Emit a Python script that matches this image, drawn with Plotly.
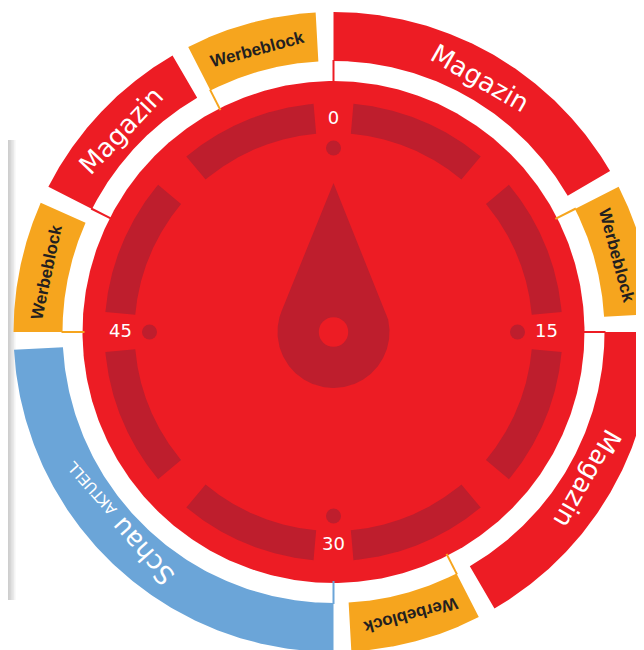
import numpy as np
import plotly.graph_objects as go

# ---------------- data ----------------
segment_labels = ["Magazin", "Werbeblock", "Magazin", "Werbeblock",
                  "Schau AKTUELL", "Werbeblock", "Magazin", "Werbeblock"]
segment_kind = ["magazin", "werbung", "magazin", "werbung",
                "schau", "werbung", "magazin", "werbung"]
segment_start_min = [0, 10.5, 15, 25.5, 30, 45, 49.5, 55.5]
hour_minutes = 60
dial_tick_minutes = [0, 15, 30, 45]
dial_tick_labels = ["0", "15", "30", "45"]
hand_minute = 0

# ---------------- style ----------------
RED = "#ED1C24"
DARK = "#BE1E2D"
ORANGE = "#F6A51E"
BLUE = "#6BA5D8"
kind_color = {"magazin": RED, "werbung": ORANGE, "schau": BLUE}

PAGE_OFFSET = 8              # default body margin of the html page
W, H = 644 - PAGE_OFFSET, 650 - PAGE_OFFSET
CX, CY = 333.5 - PAGE_OFFSET, 332 - PAGE_OFFSET   # dial centre in figure pixels
R_DISK = 251
R_RING_IN, R_RING_OUT = 271, 320
GAP_DEG = 3.2
R_ARC_IN, R_ARC_OUT = 199, 229
ARC_GAP_DEG = 5
R_DOT = 184
R_TICKLABEL = 213
R_LABEL = 293
HAND_TIP, HAND_BULB, HUB = 149, 56, 14.7

label_font = {
    "magazin": dict(family="DejaVu Sans", size=26, color="white"),
    "werbung": dict(family="Liberation Sans", size=17, color="#231F20", weight="bold"),
    "schau": dict(family="DejaVu Sans", size=26, color="white"),
}
label_nudge = {4: (5.0, -5)}   # index: (extra degrees, extra radius)


def min2deg(m):
    return np.asarray(m, dtype=float) / hour_minutes * 360.0


def polar_xy(r, deg):
    t = np.radians(deg)
    return r * np.sin(t), r * np.cos(t)


def sector(th1, th2, r1, r2, n=160):
    t = np.linspace(th1, th2, n)
    xo, yo = polar_xy(r2, t)
    xi, yi = polar_xy(r1, t[::-1])
    return (np.concatenate([xo, xi, xo[:1]]),
            np.concatenate([yo, yi, yo[:1]]))


fig = go.Figure()


def add_fill(x, y, color):
    fig.add_trace(go.Scatter(x=x, y=y, mode="lines", fill="toself",
                             fillcolor=color, line=dict(width=0, color=color),
                             hoverinfo="skip", showlegend=False))


# main disk
tt = np.linspace(0, 360, 721)
dx, dy = polar_xy(R_DISK, tt)
add_fill(dx, dy, RED)

# dark dial arcs (two per quarter)
tick_deg = min2deg(dial_tick_minutes)
for d in tick_deg:
    for a, b in [(d + ARC_GAP_DEG, d + 45 - ARC_GAP_DEG),
                 (d + 45 + ARC_GAP_DEG, d + 90 - ARC_GAP_DEG)]:
        x, y = sector(a, b, R_ARC_IN, R_ARC_OUT)
        add_fill(x, y, DARK)

# dots at ticks
dxs, dys = polar_xy(R_DOT, tick_deg)
fig.add_trace(go.Scatter(x=dxs, y=dys, mode="markers",
                         marker=dict(size=15, color=DARK),
                         hoverinfo="skip", showlegend=False))

# tick labels
lx, ly = polar_xy(R_TICKLABEL, tick_deg)
fig.add_trace(go.Scatter(x=lx, y=ly, mode="text", text=dial_tick_labels,
                         textfont=dict(family="DejaVu Sans", size=18, color="white"),
                         hoverinfo="skip", showlegend=False))

# hand (teardrop)
hd = float(min2deg(hand_minute))
phi = np.degrees(np.arccos(HAND_BULB / HAND_TIP))
arc = np.linspace(hd + phi, hd + 360 - phi, 200)
bx, by = polar_xy(HAND_BULB, arc)
tx, ty = polar_xy(HAND_TIP, hd)
add_fill(np.concatenate([[tx], bx, [tx]]), np.concatenate([[ty], by, [ty]]), DARK)
fig.add_trace(go.Scatter(x=[0], y=[0], mode="markers",
                         marker=dict(size=2 * HUB, color=RED),
                         hoverinfo="skip", showlegend=False))

# outer programme segments
starts = list(segment_start_min)
ends = starts[1:] + [hour_minutes]
for i, (s, e, lab, kind) in enumerate(zip(starts, ends, segment_labels, segment_kind)):
    col = kind_color[kind]
    a = float(min2deg(s))
    b = float(min2deg(e)) - GAP_DEG
    x, y = sector(a, b, R_RING_IN, R_RING_OUT)
    add_fill(x, y, col)
    # connector line from disk to segment start
    cx_, cy_ = polar_xy(np.array([R_DISK - 2, R_RING_IN + 1]), np.array([a, a]))
    fig.add_trace(go.Scatter(x=cx_, y=cy_, mode="lines",
                             line=dict(color=col, width=2),
                             hoverinfo="skip", showlegend=False))
    # label
    mid = (a + b) / 2
    nd, nr = label_nudge.get(i, (0, 0))
    ang = mid + nd
    px_, py_ = polar_xy(R_LABEL + nr, ang)
    tang = ((ang + 180) % 360) - 180
    if kind == "schau":
        first, rest = lab.split(" ", 1)
        text = f"{first} <span style='font-size:15px'>{rest}</span>"
    else:
        text = lab
    fig.add_annotation(x=float(px_), y=float(py_), xref="x", yref="y",
                       text=text, textangle=float(tang), showarrow=False,
                       font=label_font[kind])

# soft page shadow on the left edge
for k in range(1, 6):
    fig.add_shape(type="rect", xref="paper", yref="paper",
                  x0=0, x1=k * 1.5 / W, y0=1 - (600 - PAGE_OFFSET) / H,
                  y1=1 - (140 - PAGE_OFFSET) / H,
                  fillcolor="rgba(120,120,120,0.08)", line=dict(width=0),
                  layer="below")

fig.update_layout(
    width=W, height=H, autosize=False,
    margin=dict(l=0, r=0, t=0, b=0),
    paper_bgcolor="white", plot_bgcolor="white",
    xaxis=dict(range=[-CX, W - CX], visible=False, fixedrange=True),
    yaxis=dict(range=[-(H - CY), CY], visible=False, fixedrange=True),
    showlegend=False,
)

fig.write_html("out.html")
